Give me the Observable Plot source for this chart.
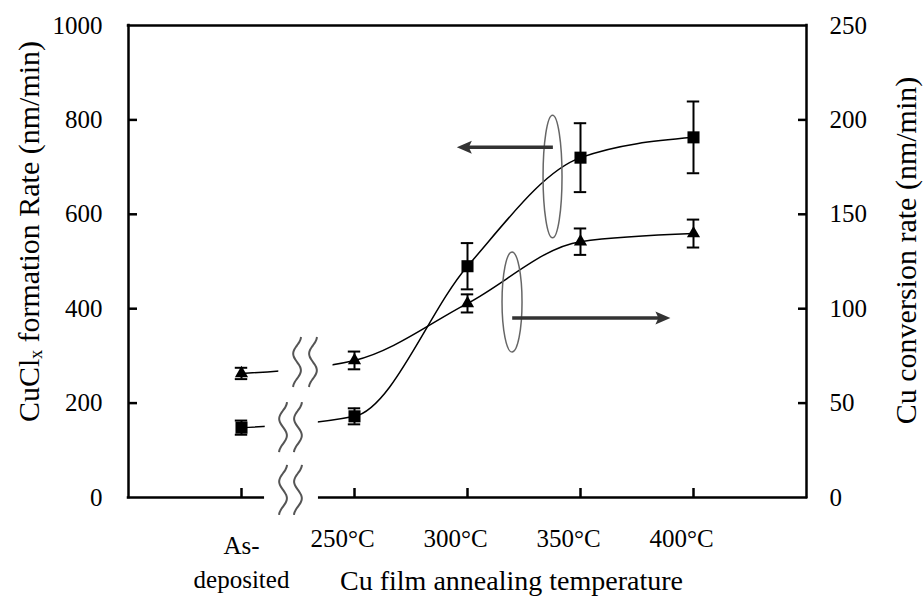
<!DOCTYPE html>
<html><head><meta charset="utf-8">
<script src="https://cdn.jsdelivr.net/npm/d3@7"></script>
<script src="https://cdn.jsdelivr.net/npm/@observablehq/plot@0.6"></script>
<style>body{margin:0;background:#fff} #chart svg{display:block}</style>
</head><body><div id="chart"></div>
<script>
// Categories along x (positions 0..4)
const categories = ["As-\ndeposited", "250°C", "300°C", "350°C", "400°C"];
const catPos = [0, 1, 2, 3, 4];
// Squares: CuClx formation rate (left axis, nm/min)
const formRate = [148, 172, 490, 720, 763];
const formErr = [15, 17, 49, 73, 76];
// Triangles: Cu conversion rate (right axis, nm/min)
const convRate = [65.7, 72.6, 102.8, 135.5, 139.8];
const convErr = [3, 4.7, 4.8, 7, 7.4];
// Tick labels
const leftTicks = [0, 200, 400, 600, 800, 1000];
const rightTicks = [0, 50, 100, 150, 200, 250];
const ratio = 4; // left-axis units per right-axis unit
// Axis-break gaps (data units)
const gaps = [
  {x1: 0.204, x2: 0.681, y1: -14, y2: 14},
  {x1: 0.21, x2: 0.68, y1: 118, y2: 180},
  {x1: 0.33, x2: 0.81, y1: 245, y2: 312}
];
const breakMarks = [
  {xs: [0.496, 0.637], y: 286},
  {xs: [0.372, 0.504], y: 148},
  {xs: [0.372, 0.504], y: 15}
];
// Annotation arrows and ovals (data units)
const arrows = [
  {x1: 2.76, x2: 1.91, y: 741},
  {x1: 2.40, x2: 3.80, y: 379}
];
const ovals = [
  {x1: 2.673, x2: 2.841, y1: 549, y2: 809},
  {x1: 2.31, x2: 2.487, y1: 307, y2: 519}
];

const formCaps = catPos.flatMap(i => [formRate[i] - formErr[i], formRate[i] + formErr[i]].map(v => ({i, v})));
const convCaps = catPos.flatMap(i => [convRate[i] - convErr[i], convRate[i] + convErr[i]].map(v => ({i, v: v * ratio})));

function squiggles(index, {x, y}) {
  const g = d3.create("svg:g").attr("fill", "none").attr("stroke", "#555").attr("stroke-width", 2);
  const half = (y(0) - y(53));
  for (const b of breakMarks) for (const xv of b.xs) {
    const cx = x(xv), cy = y(b.y);
    const pts = d3.range(0, 1.0001, 0.05).map(t => [cx + 4 * Math.cos(3 * Math.PI * t), cy - half + 2 * half * t]);
    g.append("path").attr("d", d3.line().curve(d3.curveBasis)(pts));
  }
  return g.node();
}
function ellipses(index, {x, y}) {
  const g = d3.create("svg:g").attr("fill", "none").attr("stroke", "#666").attr("stroke-width", 1.5);
  for (const o of ovals) {
    g.append("ellipse")
      .attr("cx", (x(o.x1) + x(o.x2)) / 2).attr("cy", (y(o.y1) + y(o.y2)) / 2)
      .attr("rx", Math.abs(x(o.x2) - x(o.x1)) / 2).attr("ry", Math.abs(y(o.y2) - y(o.y1)) / 2);
  }
  return g.node();
}
function filledArrows(index, {x, y}) {
  const g = d3.create("svg:g").attr("fill", "#333").attr("stroke", "#333");
  for (const a of arrows) {
    const xa = x(a.x1), xb = x(a.x2), yy = y(a.y);
    const dir = Math.sign(xb - xa), L = 15, W = 6.5;
    g.append("line").attr("x1", xa).attr("x2", xb - dir * L * 0.6).attr("y1", yy).attr("y2", yy)
      .attr("stroke-width", 3.5).attr("fill", "none");
    g.append("path").attr("stroke", "none")
      .attr("d", `M${xb},${yy}L${xb - dir * L},${yy - W}L${xb - dir * L * 0.8},${yy}L${xb - dir * L},${yy + W}Z`);
  }
  return g.node();
}

const plot = Plot.plot({
  width: 924, height: 596,
  marginLeft: 128, marginRight: 118, marginTop: 25, marginBottom: 99,
  style: {fontFamily: '"Liberation Serif","Times New Roman",serif', fontSize: "25px", color: "#000", background: "#fff", overflow: "visible"},
  x: {domain: [-1, 5]},
  y: {domain: [0, 1000]},
  marks: [
    // curves
    Plot.line(catPos, {x: d => d, y: d => formRate[d], curve: "monotone-x", strokeWidth: 1.5, stroke: "#000"}),
    Plot.line(catPos, {x: d => d, y: d => convRate[d] * ratio, curve: "monotone-x", strokeWidth: 1.5, stroke: "#000"}),
    // frame
    Plot.ruleY([1000, 0], {strokeWidth: 2.5, strokeLinecap: "square"}),
    Plot.ruleX([-1, 5], {strokeWidth: 2.5, strokeLinecap: "square"}),
    // inward ticks
    Plot.axisY(leftTicks.slice(1, -1), {anchor: "left", tickSize: -9, strokeWidth: 2.5, tickFormat: () => "", label: null}),
    Plot.axisY(rightTicks.slice(1, -1).map(d => d * ratio), {anchor: "right", tickSize: -9, strokeWidth: 2.5, tickFormat: () => "", label: null}),
    Plot.axisX(catPos, {anchor: "bottom", tickSize: -9, strokeWidth: 2.5, tickFormat: () => "", label: null}),
    // tick labels
    Plot.axisY(leftTicks, {anchor: "left", tickSize: 0, tickPadding: 26, fontSize: 25, tickFormat: d3.format("d"), label: null}),
    Plot.axisY(rightTicks.map(d => d * ratio), {anchor: "right", tickSize: 0, tickPadding: 23, fontSize: 25, tickFormat: d => d3.format("d")(d / ratio), label: null}),
    Plot.text(catPos.slice(0, 1), {x: d => d, frameAnchor: "bottom", text: d => categories[d], lineAnchor: "top", dy: 32, lineHeight: 1.36, fontSize: 25}),
    Plot.text(catPos.slice(1), {x: d => d, frameAnchor: "bottom", text: d => categories[d], lineAnchor: "top", dy: 32, dx: -12, fontSize: 25}),
    // gaps for the axis break
    Plot.rect(gaps, {x1: "x1", x2: "x2", y1: "y1", y2: "y2", fill: "white"}),
    squiggles,
    // error bars
    Plot.ruleX(catPos, {x: d => d, y1: d => formRate[d] - formErr[d], y2: d => formRate[d] + formErr[d], strokeWidth: 2}),
    Plot.ruleY(formCaps, {y: "v", x1: d => d.i - 0.055, x2: d => d.i + 0.055, strokeWidth: 2}),
    Plot.ruleX(catPos, {x: d => d, y1: d => (convRate[d] - convErr[d]) * ratio, y2: d => (convRate[d] + convErr[d]) * ratio, strokeWidth: 2}),
    Plot.ruleY(convCaps, {y: "v", x1: d => d.i - 0.055, x2: d => d.i + 0.055, strokeWidth: 2}),
    // markers
    Plot.dot(catPos, {x: d => d, y: d => formRate[d], symbol: "square", r: 6.8, fill: "#000", stroke: null}),
    Plot.dot(catPos, {x: d => d, y: d => convRate[d] * ratio, symbol: "triangle", r: 4.9, fill: "#000", stroke: null}),
    // annotations
    ellipses,
    filledArrows,
    // titles
    Plot.text(["Cu film annealing temperature"], {frameAnchor: "bottom", textAnchor: "middle", dx: 44, dy: 92, lineAnchor: "bottom", fontSize: 28}),
    Plot.text(["CuClₓ formation Rate (nm/min)"], {frameAnchor: "left", textAnchor: "middle", rotate: -90, dx: -99, dy: -30, fontSize: 30}),
    Plot.text(["Cu conversion rate (nm/min)"], {frameAnchor: "right", textAnchor: "middle", rotate: -90, dx: 100, dy: -11, fontSize: 30})
  ]
});
document.getElementById("chart").appendChild(plot);
</script>
</body></html>
